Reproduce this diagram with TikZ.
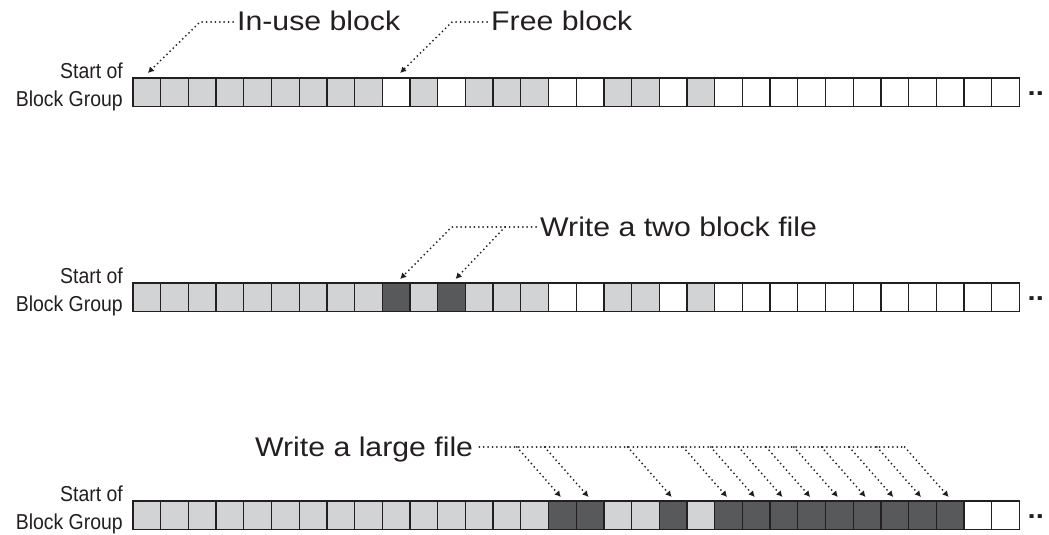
\documentclass[tikz,border=0pt]{standalone}
\usepackage{fontspec}
\setmainfont{Liberation Sans}
\newfontfamily\bigfont[FakeStretch=1.12]{Liberation Sans}
\newfontfamily\smallfont[FakeStretch=0.9]{Liberation Sans}
\usetikzlibrary{arrows.meta,calc}
\definecolor{cw}{HTML}{FFFFFF}
\definecolor{cl}{HTML}{D1D3D4}
\definecolor{cd}{HTML}{58595B}
\definecolor{ink}{HTML}{231F20}
\begin{document}
\begin{tikzpicture}[x=1pt,y=-1pt,
  blk/.style={draw=ink, line width=1.3pt, minimum width=27.7pt, minimum height=28.7pt, inner sep=0pt, outer sep=0pt, anchor=north west},
  lbl/.style={font=\smallfont\fontsize{21.6}{24}\selectfont, inner sep=0pt, anchor=base east, text=ink},
  big/.style={font=\bigfont\fontsize{27}{32}\selectfont, inner sep=0pt, text=ink},
  ell/.style={font=\bigfont\bfseries\fontsize{26}{32}\selectfont, inner sep=0pt, text=ink, anchor=base west},
  dotline/.style={draw=ink, line width=2pt, line cap=round, dash pattern=on 0pt off 4.4pt},
  dotarrow/.style={dotline, -{Latex[length=6pt,width=6.5pt]}}
]
\useasboundingbox (0,0) rectangle (1049,535);

% row 1
\foreach \c [count=\k from 0] in {l,l,l,l,l,l,l,l,l,w,l,w,l,l,l,w,w,l,l,w,l,w,w,w,w,w,w,w,w,w,w,w}
  \node[blk, fill=c\c] (A\k) at ({133+27.7*\k},78) {};
% row 2
\foreach \c [count=\k from 0] in {l,l,l,l,l,l,l,l,l,d,l,d,l,l,l,w,w,l,l,w,l,w,w,w,w,w,w,w,w,w,w,w}
  \node[blk, fill=c\c] (B\k) at ({133+27.7*\k},283) {};
% row 3
\foreach \c [count=\k from 0] in {l,l,l,l,l,l,l,l,l,l,l,l,l,l,l,d,d,l,l,d,l,d,d,d,d,d,d,d,d,d,w,w}
  \node[blk, fill=c\c] (C\k) at ({133+27.7*\k},501) {};

% side labels
\node[lbl] (s1) at (123,78) {Start of};
\node[lbl] (g1) at (123,106) {Block Group};
\node[lbl] (s2) at (123,283) {Start of};
\node[lbl] (g2) at (123,311) {Block Group};
\node[lbl] (s3) at (123,501) {Start of};
\node[lbl] (g3) at (123,529) {Block Group};

% continuation dots
\node[ell] (e1) at (1027.5,95.5) {..};
\node[ell] (e2) at (1027.5,300.5) {..};
\node[ell] (e3) at (1027.5,518.5) {..};

% row 1 callouts
\node[big, anchor=base west] (inuse) at (237,31) {In-use block};
\node[big, anchor=base west] (free) at (491,31) {Free block};
\coordinate (yA) at (0,22);
\coordinate (bA) at (200,22);
\coordinate (bF) at (452,22);
\draw[dotarrow] ($(inuse.west |- yA)+(-4,0)$) -- (bA) -- ($(A0.north)+(1,-5)$);
\draw[dotarrow] ($(free.west |- yA)+(-4,0)$) -- (bF) -- ($(A9.north)+(4,-5)$);

% row 2 callouts
\node[big, anchor=base west] (two) at (540,236) {Write a two block file};
\coordinate (yB) at (0,227);
\coordinate (bB1) at (451.7,227);
\coordinate (bB2) at (505,227);
\draw[dotarrow] ($(two.west |- yB)+(-4,0)$) -- (bB1) -- ($(B9.north)+(4,-4)$);
\draw[dotarrow] (bB2) -- ($(B11.north)+(4,-4)$);

% row 3 callouts
\node[big, anchor=base east] (large) at (473.3,456) {Write a large file};
\coordinate (yC) at (0,447);
\foreach \k in {15,16,19,21,22,23,24,25,26,27,28,29} {
  \coordinate (t\k) at ($(C\k.north)+(-1.5,-4)$);
  \coordinate (h\k) at ($(t\k)+(-44,-50)$);
  \draw[dotarrow] (h\k) -- (t\k);
}
\draw[dotline] ($(large.east |- yC)+(6,0)$) -- (h29);
\end{tikzpicture}
\end{document}
